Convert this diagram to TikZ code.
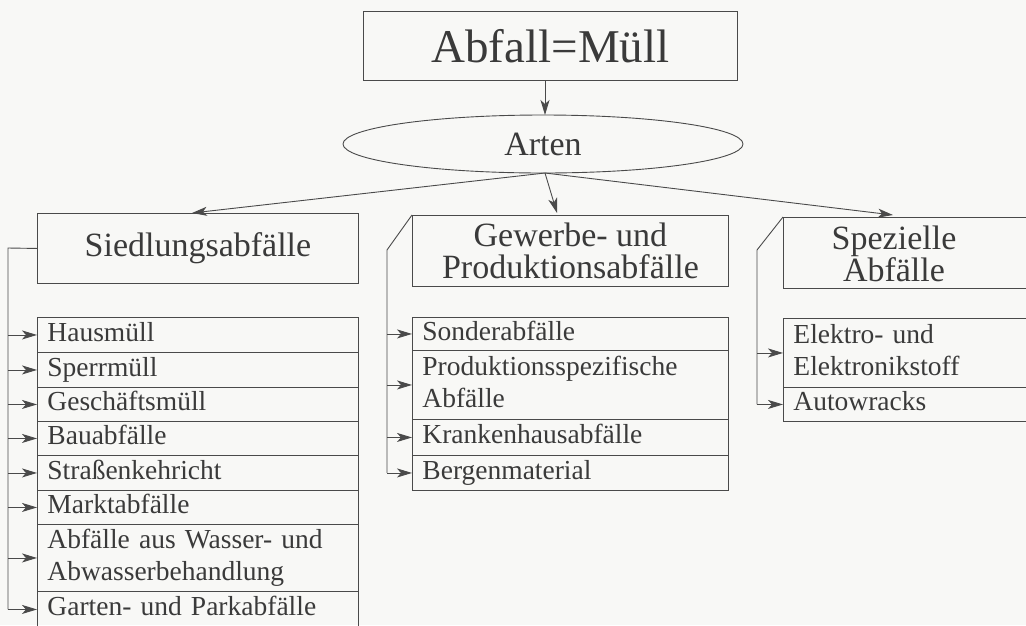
\documentclass[tikz,border=0pt]{standalone}
\usepackage{fontspec}
\setmainfont{Liberation Serif}
\usetikzlibrary{arrows.meta,shapes.geometric}
\definecolor{ink}{HTML}{3A3A3A}
\definecolor{rule}{HTML}{4A4A4A}
\definecolor{paper}{HTML}{F8F8F6}
\begin{document}
\begin{tikzpicture}[x=1pt,y=-1pt,
  line width=0.9pt, draw=rule, text=ink,
  every node/.style={font=\fontsize{27.5}{32}\selectfont},
  box/.style={draw=rule, rectangle, anchor=north west, inner sep=0pt},
  headbox/.style={box, font=\fontsize{34}{32}\selectfont, align=center},
  row/.style={box, align=left, inner xsep=10pt, inner ysep=0pt},
  arr/.style={-{Stealth[length=15pt,width=9pt,inset=4pt]}, rule},
  wire/.style={rule}
]
\fill[paper] (0,0) rectangle (1026,625);
\useasboundingbox (0,0) rectangle (1026,625);

% root and its classification ellipse
\node[box, minimum width=374, minimum height=69, font=\fontsize{47}{50}\selectfont]
  (root) at (363,11) {Abfall=Müll};
\node[draw=rule, ellipse, minimum width=400, minimum height=58, inner sep=0pt,
  font=\fontsize{34}{36}\selectfont] (arten) at (543,144) {Arten};
\draw[arr] (root.south -| 545,0) -- (545,115);

% three main groups
\node[headbox, minimum width=321, minimum height=70] (sied) at (37,213) {Siedlungsabfälle};
\node[headbox, minimum width=316, minimum height=71] (gew) at (412,215) {Gewerbe- und\\Produktionsabfälle};
\node[headbox, minimum width=257, minimum height=71] (spez) at (783,217) {};
\node[font=\fontsize{34}{30}\selectfont, align=center] (speztxt) at (894,254) {Spezielle\\Abfälle};

\coordinate (fork) at (545,173);
\draw[arr] (fork) -- (192,213);
\draw[arr] (fork) -- (557,213);
\draw[arr] (fork) -- (893,215);

% Siedlungsabfälle list
\def\wA{321}
\node[row, minimum width=\wA, text width=301, minimum height=35] (s1) at (37,317) {\strut Hausmüll};
\node[row, minimum width=\wA, text width=301, minimum height=35] (s2) at (37,352) {\strut Sperrmüll};
\node[row, minimum width=\wA, text width=301, minimum height=34] (s3) at (37,387) {\strut Geschäftsmüll};
\node[row, minimum width=\wA, text width=301, minimum height=34] (s4) at (37,421) {\strut Bauabfälle};
\node[row, minimum width=\wA, text width=301, minimum height=35] (s5) at (37,455) {\strut Straßenkehricht};
\node[row, minimum width=\wA, text width=301, minimum height=34] (s6) at (37,490) {\strut Marktabfälle};
\node[row, minimum width=\wA, text width=301, minimum height=67] (s7) at (37,524) {\strut Abfälle aus Wasser- und\\\strut Abwasserbehandlung};
\node[row, minimum width=\wA, text width=301, minimum height=36] (s8) at (37,591) {\strut Garten- und Parkabfälle};

\coordinate (busS) at (8,248);
\draw[wire] (sied.west) -- (busS) -- (busS |- s8.west);
\foreach \r in {s1,s2,s3,s4,s5,s6,s7,s8}
  \draw[arr] (busS |- \r.west) -- (\r.west);

% Gewerbe- und Produktionsabfälle list
\node[row, minimum width=316, text width=296, minimum height=33] (g1) at (412,317) {\strut Sonderabfälle};
\node[row, minimum width=316, text width=296, minimum height=69] (g2) at (412,350) {\strut Produktionsspezifische\\\strut Abfälle};
\node[row, minimum width=316, text width=296, minimum height=36] (g3) at (412,419) {\strut Krankenhausabfälle};
\node[row, minimum width=316, text width=296, minimum height=35] (g4) at (412,455) {\strut Bergenmaterial};

\coordinate (busG) at (387,250);
\draw[wire] (gew.north west) -- (busG) -- (busG |- g4.west);
\foreach \r in {g1,g2,g3,g4}
  \draw[arr] (busG |- \r.west) -- (\r.west);

% Spezielle Abfälle list
\node[row, minimum width=257, text width=237, minimum height=69] (p1) at (783,318) {\strut Elektro- und\\\strut Elektronikstoff};
\node[row, minimum width=257, text width=237, minimum height=34] (p2) at (783,387) {\strut Autowracks};

\coordinate (busP) at (757,250);
\draw[wire] (spez.north west) -- (busP) -- (busP |- p2.west);
\foreach \r in {p1,p2}
  \draw[arr] (busP |- \r.west) -- (\r.west);
\end{tikzpicture}
\end{document}
